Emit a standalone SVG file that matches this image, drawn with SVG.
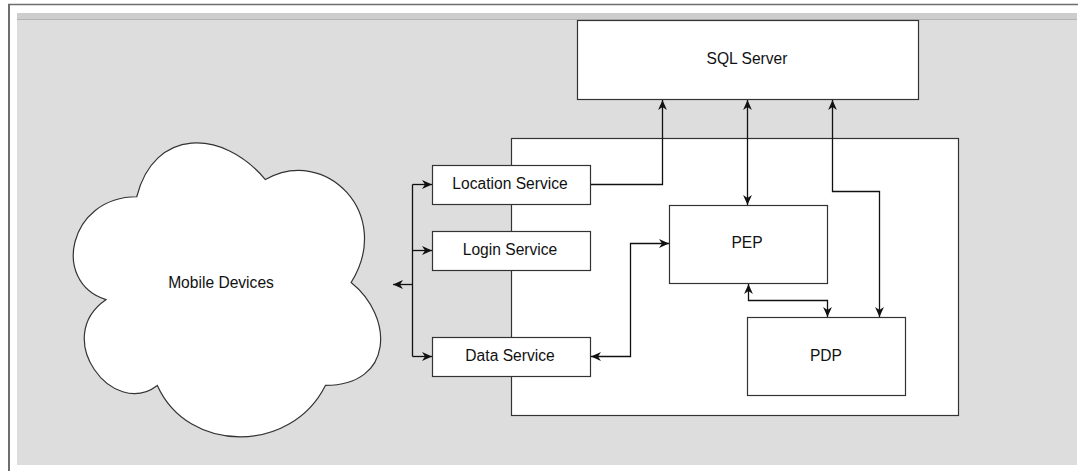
<svg xmlns="http://www.w3.org/2000/svg" width="1079" height="471" viewBox="0 0 1079 471">
<style>
.box{fill:#ffffff;stroke:#333333;stroke-width:1.2}
.lbl{font-family:"Liberation Sans",Arial,sans-serif;font-size:15.6px;fill:#111111;text-anchor:middle;dominant-baseline:central}
.conn{fill:none;stroke:#111111;stroke-width:1.3}
.e{marker-end:url(#arr)}
.b{marker-start:url(#arr);marker-end:url(#arr)}
</style>
<defs>
<marker id="arr" viewBox="0 0 10 10" refX="10" refY="5" markerWidth="11" markerHeight="10" markerUnits="userSpaceOnUse" orient="auto-start-reverse">
<path d="M0,0.6 L10,5 L0,9.4 L3,5 Z" fill="#111111"/>
</marker>
</defs>
<rect x="0" y="0" width="1079" height="471" fill="#ffffff"/>
<rect x="17" y="13" width="1060" height="452" fill="#dddddd"/>
<rect x="17" y="13" width="1060" height="6" fill="#cdcdcd"/>
<line x1="17" y1="19.5" x2="1077" y2="19.5" stroke="#b3b3b3" stroke-width="1"/>
<line x1="8" y1="4.5" x2="1078" y2="4.5" stroke="#6e6e6e" stroke-width="1.5"/>
<line x1="9" y1="4" x2="9" y2="471" stroke="#6e6e6e" stroke-width="2"/>

<g id="container">
<rect class="box" x="511.5" y="138.5" width="447" height="277"/>
</g>
<g id="sql-server">
<rect class="box" x="577.5" y="20.5" width="341" height="79"/>
<text class="lbl" x="747" y="58">SQL Server</text>
</g>
<g id="mobile-devices">
<path class="box" transform="translate(51,111) scale(343,343)" vector-effect="non-scaling-stroke" d="M0.25,0.25 C0.05,0.25 0,0.5 0.16,0.55 C0,0.66 0.18,0.9 0.31,0.8 C0.4,1 0.7,1 0.8,0.8 C1,0.8 1,0.6 0.875,0.5 C1,0.3 0.8,0.1 0.625,0.2 C0.5,0.05 0.3,0.05 0.25,0.25 Z"/>
<text class="lbl" x="221" y="282">Mobile Devices</text>
</g>
<g id="location-service">
<rect class="box" x="432.5" y="165.5" width="158" height="39"/>
<text class="lbl" x="510" y="183.5">Location Service</text>
</g>
<g id="login-service">
<rect class="box" x="432.5" y="231.5" width="158" height="39"/>
<text class="lbl" x="510" y="249.5">Login Service</text>
</g>
<g id="data-service">
<rect class="box" x="432.5" y="337.5" width="158" height="39"/>
<text class="lbl" x="510" y="355.5">Data Service</text>
</g>
<g id="pep">
<rect class="box" x="669.5" y="205.5" width="158" height="78"/>
<text class="lbl" x="747" y="242">PEP</text>
</g>
<g id="pdp">
<rect class="box" x="747.5" y="317.5" width="158" height="78"/>
<text class="lbl" x="826" y="355">PDP</text>
</g>

<g id="connectors">
<path class="conn" d="M412.5,184.5 V356.5"/>
<path class="conn e" d="M412.5,184.5 H432"/>
<path class="conn e" d="M412.5,250.5 H432"/>
<path class="conn e" d="M412.5,356.5 H432"/>
<path class="conn e" d="M412.5,284.5 H393"/>
<path class="conn e" d="M591,184.5 H662.5 V100"/>
<path class="conn b" d="M747.5,100 V205"/>
<path class="conn b" d="M832.5,100 V191.5 H879.5 V317"/>
<path class="conn b" d="M591,356.5 H630.5 V243.5 H669"/>
<path class="conn b" d="M748.5,284 V300.5 H827.5 V317"/>
</g>
</svg>
